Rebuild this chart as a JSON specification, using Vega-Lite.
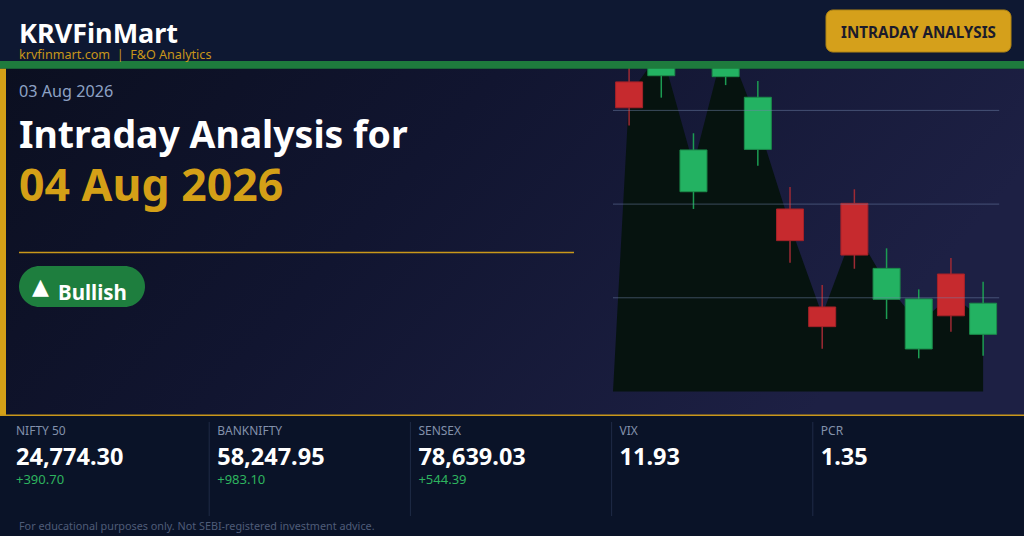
{
  "$schema": "https://vega.github.io/schema/vega-lite/v6.json",
  "width": 1024,
  "height": 536,
  "autosize": {"type": "none"},
  "padding": 0,
  "background": "#0a1328",
  "config": {"view": {"stroke": null}, "font": "Noto Sans", "text": {"font": "Noto Sans"}},
  "datasets": {
    "candles": [
      {"bar": 1, "open": 24765.2, "high": 24782.2, "low": 24742.0, "close": 24751.4},
      {"bar": 2, "open": 24768.5, "high": 24798.2, "low": 24756.8, "close": 24790.2},
      {"bar": 3, "open": 24706.6, "high": 24737.8, "low": 24697.4, "close": 24728.9},
      {"bar": 4, "open": 24768.0, "high": 24800.9, "low": 24763.5, "close": 24792.9},
      {"bar": 5, "open": 24729.2, "high": 24765.7, "low": 24720.5, "close": 24757.0},
      {"bar": 6, "open": 24697.4, "high": 24709.1, "low": 24668.7, "close": 24680.5},
      {"bar": 7, "open": 24645.1, "high": 24656.8, "low": 24622.8, "close": 24634.6},
      {"bar": 8, "open": 24700.4, "high": 24707.9, "low": 24665.5, "close": 24672.8},
      {"bar": 9, "open": 24649.2, "high": 24676.4, "low": 24638.7, "close": 24665.7},
      {"bar": 10, "open": 24622.7, "high": 24654.5, "low": 24617.7, "close": 24649.4},
      {"bar": 11, "open": 24662.7, "high": 24671.2, "low": 24631.9, "close": 24640.4},
      {"bar": 12, "open": 24630.5, "high": 24658.6, "low": 24619.1, "close": 24647.1}
    ],
    "trend": [
      {"bar": 0.5, "trend": 24600},
      {"bar": 1, "trend": 24758.2},
      {"bar": 2, "trend": 24782.2},
      {"bar": 3, "trend": 24720.9},
      {"bar": 4, "trend": 24787.6},
      {"bar": 5, "trend": 24743.3},
      {"bar": 6, "trend": 24688.8},
      {"bar": 7, "trend": 24640.8},
      {"bar": 8, "trend": 24686.7},
      {"bar": 9, "trend": 24657.4},
      {"bar": 10, "trend": 24636.0},
      {"bar": 11, "trend": 24651.5},
      {"bar": 12, "trend": 24638.7}
    ],
    "grid": [
      {"level": 24650, "from": 0.5, "to": 12.5},
      {"level": 24700, "from": 0.5, "to": 12.5},
      {"level": 24750, "from": 0.5, "to": 12.5}
    ],
    "stats": [
      {"metric": "NIFTY 50", "value": "24,774.30", "change": "+390.70"},
      {"metric": "BANKNIFTY", "value": "58,247.95", "change": "+983.10"},
      {"metric": "SENSEX", "value": "78,639.03", "change": "+544.39"},
      {"metric": "VIX", "value": "11.93", "change": ""},
      {"metric": "PCR", "value": "1.35", "change": ""}
    ]
  },
  "data": {"values": [{}]},
  "resolve": {"scale": {"x": "independent", "y": "independent"}},
  "layer": [
    {
      "mark": {"type": "rect", "fill": {"gradient": "linear", "x1": 0, "y1": 0, "x2": 1, "y2": 0.3, "stops": [{"offset": 0, "color": "#0b0f20"}, {"offset": 0.45, "color": "#111530"}, {"offset": 1, "color": "#1d2044"}]}},
      "encoding": {"x": {"value": 0}, "x2": {"value": 1024}, "y": {"value": 68.7}, "y2": {"value": 415}}
    },
    {
      "layer": [
        {
          "data": {"name": "trend"},
          "mark": {"type": "area", "color": "#06130f", "opacity": 1},
          "encoding": {
            "x": {"field": "bar", "type": "quantitative", "scale": {"domain": [-18.392, 13.115], "range": [0, 1024], "nice": false, "zero": false}, "axis": null},
            "y": {"field": "trend", "type": "quantitative", "scale": {"domain": [24522.89, 24808.91], "range": [536, 0], "nice": false, "zero": false}, "axis": null},
            "y2": {"datum": 24600}
          }
        },
        {
          "data": {"name": "candles"},
          "mark": {"type": "rule", "strokeWidth": 1.5},
          "encoding": {
            "x": {"field": "bar", "type": "quantitative", "scale": {"domain": [-18.392, 13.115], "range": [0, 1024], "nice": false, "zero": false}, "axis": null},
            "y": {"field": "low", "type": "quantitative", "scale": {"domain": [24522.89, 24808.91], "range": [536, 0], "nice": false, "zero": false}, "axis": null},
            "y2": {"field": "high"},
            "color": {"condition": {"test": "datum.close >= datum.open", "value": "#1c9c52"}, "value": "#9e2a34"}
          }
        },
        {
          "data": {"name": "candles"},
          "mark": {"type": "bar", "size": 27, "strokeWidth": 1},
          "encoding": {
            "x": {"field": "bar", "type": "quantitative", "scale": {"domain": [-18.392, 13.115], "range": [0, 1024], "nice": false, "zero": false}, "axis": null},
            "y": {"field": "open", "type": "quantitative", "scale": {"domain": [24522.89, 24808.91], "range": [536, 0], "nice": false, "zero": false}, "axis": null},
            "y2": {"field": "close"},
            "fill": {"condition": {"test": "datum.close >= datum.open", "value": "#23b262"}, "value": "#c62a2e"},
            "stroke": {"condition": {"test": "datum.close >= datum.open", "value": "#1b8a4a"}, "value": "#a52228"}
          }
        },
        {
          "data": {"name": "grid"},
          "mark": {"type": "rule", "color": "#6f84ab", "strokeOpacity": 0.5, "strokeWidth": 1},
          "encoding": {
            "x": {"field": "from", "type": "quantitative", "scale": {"domain": [-18.392, 13.115], "range": [0, 1024], "nice": false, "zero": false}, "axis": null},
            "x2": {"field": "to"},
            "y": {"field": "level", "type": "quantitative", "scale": {"domain": [24522.89, 24808.91], "range": [536, 0], "nice": false, "zero": false}, "axis": null}
          }
        }
      ]
    },
    {
      "mark": {"type": "rect", "fill": "#0e1832"},
      "encoding": {"x": {"value": 0}, "x2": {"value": 1024}, "y": {"value": 0}, "y2": {"value": 61}}
    },
    {
      "mark": {"type": "rect", "fill": "#1e7b3d"},
      "encoding": {"x": {"value": 0}, "x2": {"value": 1024}, "y": {"value": 61}, "y2": {"value": 68.7}}
    },
    {
      "mark": {"type": "rect", "fill": "#d4a017"},
      "encoding": {"x": {"value": 0}, "x2": {"value": 6}, "y": {"value": 68.7}, "y2": {"value": 415}}
    },
    {
      "mark": {"type": "rule", "color": "#c9971b", "strokeWidth": 1.5},
      "encoding": {"x": {"value": 0}, "x2": {"value": 1024}, "y": {"value": 415.2}}
    },
    {
      "mark": {"type": "rect", "fill": "#d5a01b", "stroke": "#b08514", "strokeWidth": 1, "cornerRadius": 7},
      "encoding": {"x": {"value": 826}, "x2": {"value": 1011}, "y": {"value": 10}, "y2": {"value": 52}}
    },
    {
      "mark": {"type": "text", "text": "INTRADAY ANALYSIS", "align": "center", "baseline": "alphabetic", "fontSize": 15.2, "fontWeight": "bold", "color": "#1b1b2b"},
      "encoding": {"x": {"value": 918.5}, "y": {"value": 37.5}}
    },
    {
      "mark": {"type": "text", "text": "KRVFinMart", "align": "left", "baseline": "alphabetic", "fontSize": 27, "fontWeight": "bold", "color": "#ffffff"},
      "encoding": {"x": {"value": 19}, "y": {"value": 43.3}}
    },
    {
      "mark": {"type": "text", "text": "krvfinmart.com\u00a0\u00a0|\u00a0\u00a0F&O Analytics", "align": "left", "baseline": "alphabetic", "fontSize": 12.6, "color": "#c8961a"},
      "encoding": {"x": {"value": 19}, "y": {"value": 58.7}}
    },
    {
      "mark": {"type": "text", "text": "03 Aug 2026", "align": "left", "baseline": "alphabetic", "fontSize": 16.2, "color": "#8ea2c4"},
      "encoding": {"x": {"value": 19}, "y": {"value": 96.7}}
    },
    {
      "mark": {"type": "text", "text": "Intraday Analysis for", "align": "left", "baseline": "alphabetic", "fontSize": 37.4, "fontWeight": "bold", "color": "#ffffff"},
      "encoding": {"x": {"value": 19}, "y": {"value": 148}}
    },
    {
      "mark": {"type": "text", "text": "04 Aug 2026", "align": "left", "baseline": "alphabetic", "fontSize": 44.6, "fontWeight": "bold", "color": "#d4a017"},
      "encoding": {"x": {"value": 19}, "y": {"value": 201}}
    },
    {
      "mark": {"type": "rule", "color": "#c9981a", "strokeWidth": 1.5},
      "encoding": {"x": {"value": 19}, "x2": {"value": 574}, "y": {"value": 252.5}}
    },
    {
      "mark": {"type": "rect", "fill": "#1e7e3e", "cornerRadius": 20.5},
      "encoding": {"x": {"value": 19}, "x2": {"value": 145}, "y": {"value": 266}, "y2": {"value": 307}}
    },
    {
      "mark": {"type": "text", "text": "▲", "align": "left", "baseline": "alphabetic", "fontSize": 22, "font": "DejaVu Sans", "color": "#ffffff"},
      "encoding": {"x": {"value": 32}, "y": {"value": 294}}
    },
    {
      "mark": {"type": "text", "text": "Bullish", "align": "left", "baseline": "alphabetic", "fontSize": 20.5, "fontWeight": "bold", "color": "#ffffff"},
      "encoding": {"x": {"value": 58}, "y": {"value": 300}}
    },
    {
      "mark": {"type": "text", "text": "For educational purposes only. Not SEBI-registered investment advice.", "align": "left", "baseline": "alphabetic", "fontSize": 10.8, "color": "#4f5c78"},
      "encoding": {"x": {"value": 19}, "y": {"value": 530}}
    },
    {
      "data": {"name": "stats"},
      "encoding": {"x": {"field": "metric", "type": "nominal", "sort": null, "bandPosition": 0, "scale": {"type": "band", "range": [8, 1014], "paddingInner": 0, "paddingOuter": 0}, "axis": null}},
      "layer": [
        {
          "mark": {"type": "text", "align": "left", "baseline": "alphabetic", "dx": 8, "fontSize": 12, "color": "#8391ab"},
          "encoding": {"y": {"value": 434.5}, "text": {"field": "metric"}}
        },
        {
          "mark": {"type": "text", "align": "left", "baseline": "alphabetic", "dx": 8, "fontSize": 23.5, "fontWeight": "bold", "color": "#ffffff"},
          "encoding": {"y": {"value": 464.5}, "text": {"field": "value"}}
        },
        {
          "mark": {"type": "text", "align": "left", "baseline": "alphabetic", "dx": 8, "fontSize": 13, "color": "#2eb35f"},
          "encoding": {"y": {"value": 483.5}, "text": {"field": "change"}}
        },
        {
          "transform": [{"filter": "datum.metric != 'NIFTY 50'"}],
          "mark": {"type": "rule", "color": "#1f2b46", "strokeWidth": 1},
          "encoding": {"y": {"value": 422}, "y2": {"value": 516}}
        }
      ]
    }
  ]
}
